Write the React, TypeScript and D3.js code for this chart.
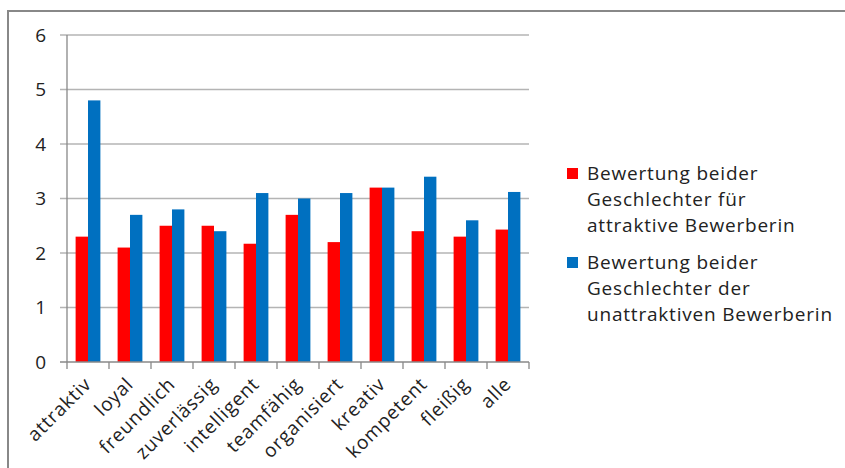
import React from "react";
import * as d3 from "d3";

const categories = [
  "attraktiv", "loyal", "freundlich", "zuverlässig", "intelligent", "teamfähig",
  "organisiert", "kreativ", "kompetent", "fleißig", "alle",
];
const attraktiveValues = [2.3, 2.1, 2.5, 2.5, 2.17, 2.7, 2.2, 3.2, 2.4, 2.3, 2.43];
const unattraktiveValues = [4.8, 2.7, 2.8, 2.4, 3.1, 3.0, 3.1, 3.2, 3.4, 2.6, 3.12];
const yTicks = [0, 1, 2, 3, 4, 5, 6];
const seriesNames = ["attraktiv", "unattraktiv"];
const legendLabels = [
  ["Bewertung beider", "Geschlechter für", "attraktive Bewerberin"],
  ["Bewertung beider", "Geschlechter der", "unattraktiven Bewerberin"],
];
const colors = ["#ff0000", "#0070c0"];

const W = 845;
const H = 468;
const plot = { left: 67, right: 529, top: 35, bottom: 362 };
const font = "'Open Sans', sans-serif";

export default function App() {
  const x = d3.scaleBand<string>().domain(categories).range([plot.left, plot.right]);
  const bw = x.bandwidth();
  const gw = bw * 0.59;
  const x1 = d3.scaleBand<string>().domain(seriesNames).range([(bw - gw) / 2, (bw + gw) / 2]);
  const y = d3.scaleLinear().domain([0, 6]).range([plot.bottom, plot.top]);
  const data = [attraktiveValues, unattraktiveValues];

  return (
    <svg width={W} height={H} style={{ position: "absolute", left: 0, top: 0, background: "#fff" }}>
      <rect x={8} y={11} width={W} height={H} fill="#fff" stroke="#888" strokeWidth={2} />
      {yTicks.map((t) => (
        <g key={t}>
          {t > 0 && (
            <line x1={plot.left - 7} x2={plot.right} y1={y(t)} y2={y(t)} stroke="#b4b4b4" strokeWidth={1.3} />
          )}
          <text x={46} y={y(t)} dy="0.36em" textAnchor="end" fontFamily={font} fontSize={19} fill="#222">
            {t}
          </text>
        </g>
      ))}
      {data.map((vals, si) =>
        vals.map((v, i) => (
          <rect
            key={`${si}-${i}`}
            x={(x(categories[i]) ?? 0) + (x1(seriesNames[si]) ?? 0)}
            y={y(v)}
            width={x1.bandwidth()}
            height={y(0) - y(v)}
            fill={colors[si]}
          />
        ))
      )}
      <line x1={plot.left} x2={plot.left} y1={plot.top} y2={plot.bottom} stroke="#888" strokeWidth={1.3} />
      <line x1={plot.left - 7} x2={plot.right} y1={plot.bottom} y2={plot.bottom} stroke="#888" strokeWidth={1.3} />
      {categories.map((c) => (
        <line key={c} x1={x(c)!} x2={x(c)!} y1={plot.bottom} y2={plot.bottom + 7} stroke="#888" strokeWidth={1.3} />
      ))}
      <line x1={plot.right} x2={plot.right} y1={plot.bottom} y2={plot.bottom + 7} stroke="#888" strokeWidth={1.3} />
      {categories.map((c) => (
        <text
          key={c}
          transform={`translate(${(x(c) ?? 0) + bw / 2 - 5},${plot.bottom + 14}) rotate(-45)`}
          textAnchor="end"
          dy="0.7em"
          fontFamily={font}
          fontSize={19}
          letterSpacing={0.8}
          fill="#222"
        >
          {c}
        </text>
      ))}
      {legendLabels.map((lines, li) => (
        <g key={li} transform={`translate(567,${168 + li * 89})`}>
          <rect x={0} y={0} width={11} height={11} fill={colors[li]} />
          {lines.map((l, k) => (
            <text key={k} x={20} y={11.5 + k * 26} fontFamily={font} fontSize={19} letterSpacing={0.8} fill="#222">
              {l}
            </text>
          ))}
        </g>
      ))}
    </svg>
  );
}
